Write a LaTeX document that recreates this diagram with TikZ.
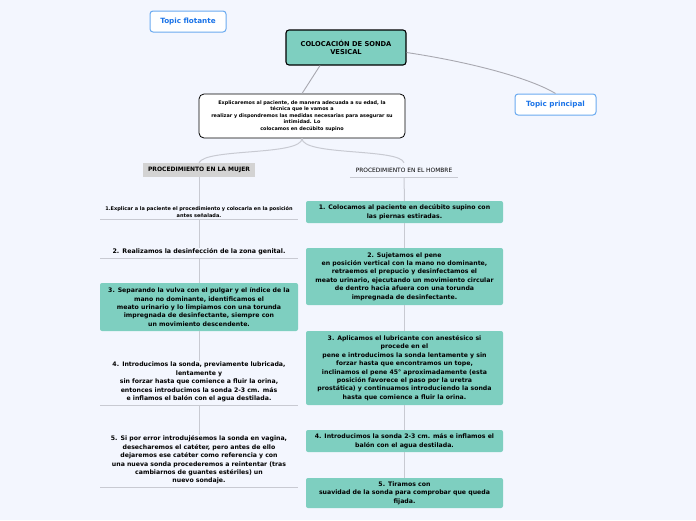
\documentclass[tikz,border=0pt]{standalone}
\usepackage{fontspec}
\setmainfont{DejaVu Sans}
\definecolor{bg}{HTML}{F3F6FE}
\definecolor{teal}{HTML}{7ECFC0}
\definecolor{tblue}{HTML}{1A73E8}
\definecolor{tborder}{HTML}{6AAAF0}
\definecolor{conn}{HTML}{A8A8B0}
\definecolor{vline}{HTML}{C8CAD2}
\definecolor{lbl}{HTML}{D3D3D3}
\tikzset{
  topicbox/.style={draw=tborder, line width=1pt, fill=white, rounded corners=3pt, text=tblue, font=\bfseries\fontsize{7.2}{8}\selectfont, inner sep=0pt},
  rootbox/.style={draw=black, line width=1.1pt, fill=teal, rounded corners=3pt, font=\bfseries\fontsize{6.7}{8}\selectfont, align=center, inner sep=0pt},
  midbox/.style={draw=black, line width=0.8pt, fill=white, rounded corners=5pt, font=\bfseries\fontsize{4.9}{6.4}\selectfont, align=center, inner sep=0pt},
  tealbox/.style={fill=teal, rounded corners=2pt, font=\bfseries\fontsize{6.2}{8.4}\selectfont, align=center, inner sep=0pt},
  plainitem/.style={font=\bfseries\fontsize{6.2}{8.4}\selectfont, align=center, inner sep=1pt},
  uline/.style={draw=vline, line width=0.8pt},
  vconn/.style={draw=vline, line width=1pt},
  mconn/.style={draw=conn, line width=0.9pt}
}
\begin{document}
\begin{tikzpicture}[x=1pt,y=-1pt]
\fill[bg] (0,0) rectangle (696,520);
\useasboundingbox (0,0) rectangle (696,520);

\node[topicbox, minimum width=76pt, minimum height=21pt] (flot) at (188,21.5) {Topic flotante};
\node[rootbox, minimum width=120pt, minimum height=35pt] (root) at (346,47.5) {COLOCACIÓN DE SONDA\\VESICAL};
\node[topicbox, minimum width=81pt, minimum height=21pt] (princ) at (555.5,104.5) {Topic principal};
\node[midbox, minimum width=206pt, minimum height=44pt] (mid) at (302,116) {Explicaremos al paciente, de manera adecuada a su edad, la\\técnica que le vamos a\\realizar y dispondremos las medidas necesarias para asegurar su\\intimidad. Lo\\colocamos en decúbito supino};

\node[fill=lbl, minimum width=112pt, minimum height=14pt, inner sep=0pt, font=\bfseries\fontsize{6}{6}\selectfont] (muj) at (199,170) {PROCEDIMIENTO EN LA MUJER};
\node[minimum width=108pt, minimum height=14pt, inner sep=0pt, font=\fontsize{5.9}{6}\selectfont] (hom) at (404,170) {PROCEDIMIENTO EN EL HOMBRE};
\draw[uline] (hom.south west) -- (hom.south east);

% left column
\node[plainitem, text width=196pt, font=\bfseries\fontsize{5}{6.2}\selectfont] (l1) at (199,212) {1.Explicar a la paciente el procedimiento y colocarla en la posición\\antes señalada.};
\node[plainitem, text width=196pt, font=\bfseries\fontsize{6.3}{8.4}\selectfont] (l2) at (199,252) {2. Realizamos la desinfección de la zona genital.};
\node[tealbox, minimum width=198pt, minimum height=48pt] (l3) at (199,307) {3. Separando la vulva con el pulgar y el índice de la\\mano no dominante, identificamos el\\meato urinario y lo limpiamos con una torunda\\impregnada de desinfectante, siempre con\\un movimiento descendente.};
\node[plainitem, text width=196pt] (l4) at (199,382) {4. Introducimos la sonda, previamente lubricada,\\lentamente y\\sin forzar hasta que comience a fluir la orina,\\entonces introducimos la sonda 2-3 cm. más\\e inflamos el balón con el agua destilada.};
\node[plainitem, text width=196pt] (l5) at (199,460) {5. Si por error introdujésemos la sonda en vagina,\\desecharemos el catéter, pero antes de ello\\dejaremos ese catéter como referencia y con\\una nueva sonda procederemos a reintentar (tras\\cambiarnos de guantes estériles) un\\nuevo sondaje.};
\foreach \n/\y in {l1/219, l2/258, l4/405, l5/487}{
  \draw[uline] (100,\y) -- (298,\y);
}

% right column
\node[tealbox, minimum width=197pt, minimum height=22pt] (r1) at (404.5,212) {1. Colocamos al paciente en decúbito supino con\\las piernas estiradas.};
\node[tealbox, minimum width=197pt, minimum height=57pt] (r2) at (404.5,276.5) {2. Sujetamos el pene\\en posición vertical con la mano no dominante,\\retraemos el prepucio y desinfectamos el\\meato urinario, ejecutando un movimiento circular\\de dentro hacia afuera con una torunda\\impregnada de desinfectante.};
\node[tealbox, minimum width=197pt, minimum height=74pt] (r3) at (404.5,368) {3. Aplicamos el lubricante con anestésico si\\procede en el\\pene e introducimos la sonda lentamente y sin\\forzar hasta que encontramos un tope,\\inclinamos el pene 45° aproximadamente (esta\\posición favorece el paso por la uretra\\prostática) y continuamos introduciendo la sonda\\hasta que comience a fluir la orina.};
\node[tealbox, minimum width=197pt, minimum height=22pt] (r4) at (404.5,441) {4. Introducimos la sonda 2-3 cm. más e inflamos el\\balón con el agua destilada.};
\node[tealbox, minimum width=197pt, minimum height=30pt] (r5) at (404.5,493) {5. Tiramos con\\suavidad de la sonda para comprobar que queda\\fijada.};

% connectors
\draw[mconn] (root.east) ++(0,5) .. controls (470,62) and (530,78) .. (princ.north);
\draw[mconn] (root.south) ++(-26,0) -- (mid.north);
\draw[vconn] (mid.south) .. controls (302,156) and (205,148) .. (muj.north);
\draw[vconn] (mid.south) .. controls (302,156) and (400,148) .. (hom.north);
\draw[vconn] (muj.south) -- (l1.north);
\draw[vconn] (199,219) -- (l2.north);
\draw[vconn] (199,258) -- (l3.north);
\draw[vconn] (l3.south) -- (l4.north);
\draw[vconn] (199,405) -- (l5.north);
\draw[vconn] (hom.south) -- (r1.north);
\draw[vconn] (r1.south) -- (r2.north);
\draw[vconn] (r2.south) -- (r3.north);
\draw[vconn] (r3.south) -- (r4.north);
\draw[vconn] (r4.south) -- (r5.north);
\end{tikzpicture}
\end{document}
